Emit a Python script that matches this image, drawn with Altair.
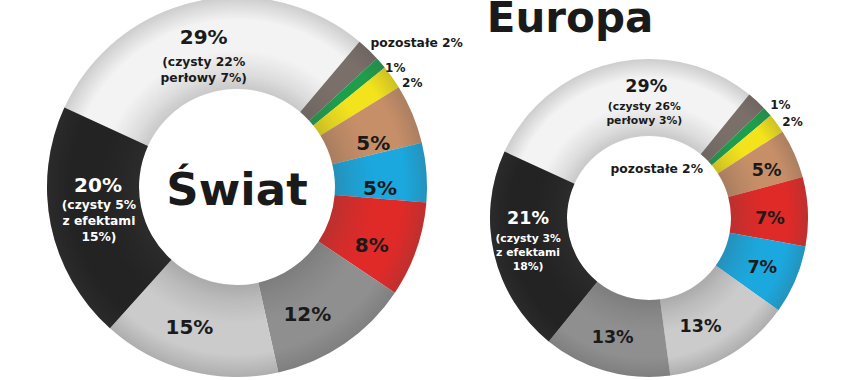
import math
import altair as alt
import pandas as pd

# ---------------- data ----------------
TITLES = ["Świat", "Europa"]

W_KEYS = ["biały", "pozostałe", "zielony", "żółty", "beżowy", "niebieski",
          "czerwony", "szary", "srebrny", "czarny"]
W_VALUES = [29, 2, 1, 2, 5, 5, 8, 12, 15, 20]
W_LABELS = ["29%", "pozostałe 2%", "1%", "2%", "5%", "5%", "8%", "12%", "15%", "20%"]
W_SUBS = ["(czysty 22%\nperłowy 7%)", "", "", "", "", "", "", "", "",
          "(czysty 5%\nz efektami\n15%)"]

E_KEYS = ["biały", "pozostałe", "zielony", "żółty", "beżowy", "czerwony",
          "niebieski", "srebrny", "szary", "czarny"]
E_VALUES = [29, 2, 1, 2, 5, 7, 7, 13, 13, 21]
E_LABELS = ["29%", "pozostałe 2%", "1%", "2%", "5%", "7%", "7%", "13%", "13%", "21%"]
E_SUBS = ["(czysty 26%\nperłowy 3%)", "", "", "", "", "", "", "", "",
          "(czysty 3%\nz efektami\n18%)"]

# ---------------- styles ----------------
COLORS = {
    "biały": "#f3f3f3", "pozostałe": "#7b6f69", "zielony": "#1e9e4c",
    "żółty": "#f3e31c", "beżowy": "#c78f68", "niebieski": "#1ba8de",
    "czerwony": "#df2a28", "szary": "#8f8f8f", "srebrny": "#cbcbcb",
    "czarny": "#232323",
}
FONT = "DejaVu Sans"
START = math.radians(-65.3)
THETA_SCALE = alt.Scale(domain=[0, 1], range=[START, START + 2 * math.pi])

# label placement (radius in px, angular shift in degrees)
W_LR = [153, 230, 198, 204, 143, 143, 147, 146, 149, 139]
W_LSH = [0, 7.6, 3.8, 4.5, 4.9, 5.0, 4.3, 5.6, 3.9, 11.9]
W_SR = [135, 0, 0, 0, 0, 0, 0, 0, 0, 138.6]
W_SSH = [-1.7, 0, 0, 0, 0, 0, 0, 0, 0, 6.5]
W_FS = [20, 12.3, 12, 12, 20, 20, 20, 20, 20, 20]

E_LR = [131, 49.6, 173, 172.5, 126.6, 121, 124, 121, 125.7, 121]
E_LSH = [11.9, -33.7, 1.3, 2.8, 2.3, 2.9, 1.1, 5.9, 1.1, 12.8]
E_SR = [117, 0, 0, 0, 0, 0, 0, 0, 0, 121.8]
E_SSH = [10.8, 0, 0, 0, 0, 0, 0, 0, 0, 6.2]
E_FS = [17.5, 12.3, 12, 12, 17.5, 17.5, 17.5, 17.5, 17.5, 17.5]


def ring_gradient():
    g = "rgba(70,70,70,{})"
    stops = [(0.0, 0), (0.50, 0), (0.52, 0.24), (0.60, 0.12), (0.72, 0.0),
             (0.88, 0.0), (1.0, 0.22)]
    return alt.RadialGradient(
        gradient="radial", x1=0.5, y1=0.5, r1=0, x2=0.5, y2=0.5, r2=0.5,
        stops=[alt.GradientStop(offset=o, color=g.format(a)) for o, a in stops])


def donut(keys, values, labels, subs, lr, lsh, sr, ssh, fs,
          cx, cy, R, r, sub_size, sub_lh):
    df = pd.DataFrame({
        "i": list(range(len(keys))), "key": keys, "v": values,
        "label": labels, "sub": subs,
        "fill": [COLORS[k] for k in keys],
        "tcol": ["#ffffff" if k == "czarny" else "#1a1a1a" for k in keys],
        "lr": lr, "lsh": lsh, "sr": sr, "ssh": ssh, "fs": fs,
    })
    base = alt.Chart(df)
    arcs = base.mark_arc(outerRadius=R, innerRadius=r).encode(
        theta=alt.Theta("v:Q", stack="normalize", scale=THETA_SCALE),
        fill=alt.Fill("fill:N", scale=None),
        order=alt.Order("i:Q"),
        x=alt.value(cx), y=alt.value(cy),
    )
    shade = alt.Chart(pd.DataFrame({"k": [0]})).mark_arc(
        theta=0, theta2=2 * math.pi, outerRadius=R, innerRadius=r,
        fill=ring_gradient()
    ).encode(x=alt.value(cx), y=alt.value(cy))

    stacked = base.transform_stack(
        stack="v", as_=["s0", "s1"], groupby=[], offset="normalize",
        sort=[alt.SortField("i", order="ascending")],
    )
    main = stacked.transform_calculate(
        t="(datum.s0 + datum.s1) / 2 + datum.lsh / 360"
    ).mark_text(font=FONT, fontWeight="bold", align="center", baseline="middle").encode(
        theta=alt.Theta("t:Q", scale=THETA_SCALE, stack=None),
        radius=alt.Radius("lr:Q", scale=None),
        text="label:N",
        size=alt.Size("fs:Q", scale=None),
        color=alt.Color("tcol:N", scale=None),
        x=alt.value(cx), y=alt.value(cy),
    )
    sub = stacked.transform_calculate(
        t="(datum.s0 + datum.s1) / 2 + datum.ssh / 360"
    ).transform_filter("datum.sub != ''").mark_text(
        font=FONT, fontWeight="bold", align="center", baseline="top",
        fontSize=sub_size, lineBreak="\n", lineHeight=sub_lh,
    ).encode(
        theta=alt.Theta("t:Q", scale=THETA_SCALE, stack=None),
        radius=alt.Radius("sr:Q", scale=None),
        text="sub:N",
        color=alt.Color("tcol:N", scale=None),
        x=alt.value(cx), y=alt.value(cy),
    )
    return [arcs, shade, main, sub]


left = donut(W_KEYS, W_VALUES, W_LABELS, W_SUBS, W_LR, W_LSH, W_SR, W_SSH, W_FS,
             237, 187, 190, 98, 12.3, 16)
right = donut(E_KEYS, E_VALUES, E_LABELS, E_SUBS, E_LR, E_LSH, E_SR, E_SSH, E_FS,
              649, 218, 159, 82, 10.8, 14)

titles_df = pd.DataFrame({"t": TITLES})
t_world = alt.Chart(titles_df).transform_filter(
    alt.datum.t == TITLES[0]).mark_text(
    font=FONT, fontWeight="bold", fontSize=45, align="center", baseline="alphabetic",
    color="#1a1a1a").encode(text="t:N", x=alt.value(237), y=alt.value(205))
t_europe = alt.Chart(titles_df).transform_filter(
    alt.datum.t == TITLES[1]).mark_text(
    font=FONT, fontWeight="bold", fontSize=42, align="center", baseline="alphabetic",
    color="#1a1a1a").encode(text="t:N", x=alt.value(570), y=alt.value(32))

chart = alt.layer(*left, *right, t_world, t_europe).properties(
    width=848, height=380, autosize="none", padding=0,
    background="#ffffff",
).configure_view(stroke=None)

chart.save("out.html", embed_options={"renderer": "svg", "actions": False})
